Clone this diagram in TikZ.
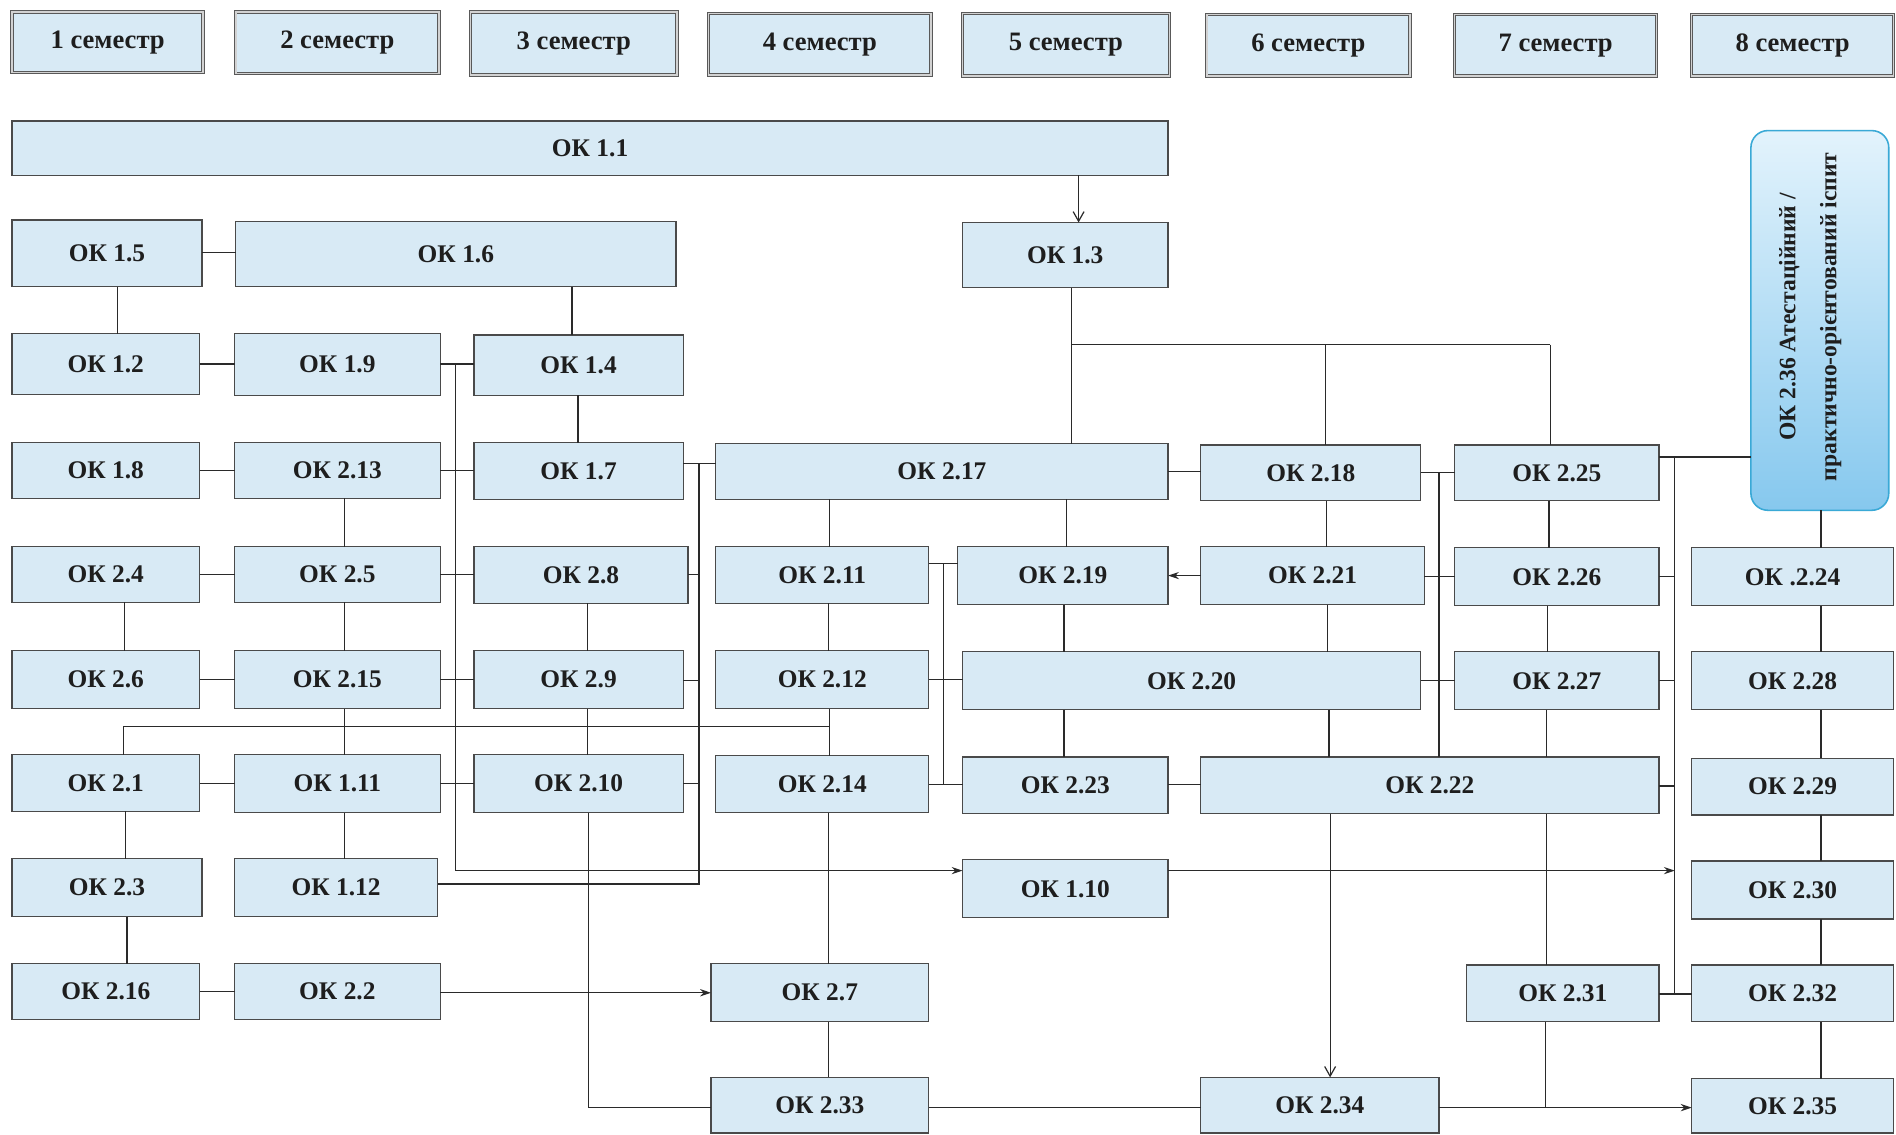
\documentclass[tikz,border=0pt]{standalone}
\usepackage{fontspec}
\setmainfont{Liberation Serif}
\usetikzlibrary{arrows.meta,shadings}
\definecolor{boxfill}{HTML}{D8EAF5}
\definecolor{boxline}{HTML}{4A4A4A}
\definecolor{txt}{HTML}{1E1E1E}
\definecolor{lnc}{HTML}{2A2A2A}
\definecolor{tealb}{HTML}{3AA9D6}
\definecolor{lightb}{HTML}{E3F3FC}
\definecolor{darkb}{HTML}{86C8EE}
\tikzset{
  okb/.style={draw=boxline, fill=boxfill, line width=1pt, inner sep=0pt, outer sep=0pt,
    font=\fontsize{21}{25}\selectfont\bfseries, text=txt},
  semb/.style={okb, draw=gray!70!black, double=gray!35, double distance=1.2pt, line width=0.8pt,
    font=\fontsize{22}{26}\selectfont\bfseries},
  bigb/.style={draw=tealb, line width=1.3pt, rounded corners=14pt, top color=lightb, bottom color=darkb,
    inner sep=0pt, outer sep=0pt},
  cn/.style={draw=lnc, line width=1pt},
  arr/.style={cn, -{Stealth[length=9pt,width=6pt]}},
  barb/.style={cn, -{Straight Barb[length=8pt,width=9pt]}},
}
\newcommand\bx[7][okb]{\node[#1,minimum width={(#5-#3)*1pt},minimum height={(#6-#4)*1pt}] (#2) at ({(#3+#5)/2},{(#4+#6)/2}) {#7};}
\newcommand\vc[4][cn]{\draw[#1] (#3.south -| #2,0) -- (#4.north -| #2,0);}
\newcommand\hc[4][cn]{\draw[#1] (#3.east |- 0,#2) -- (#4.west |- 0,#2);}
\begin{document}
\begin{tikzpicture}[x=1pt,y=-1pt]
\fill[white] (0,0) rectangle (1568,938);
\useasboundingbox (0,0) rectangle (1568,938);
% semesters
\bx[semb]{s1}{10}{10}{168}{60}{1 семестр}
\bx[semb]{s2}{195}{10}{363}{61}{2 семестр}
\bx[semb]{s3}{389}{10}{560}{62}{3 семестр}
\bx[semb]{s4}{586}{11}{770}{62}{4 семестр}
\bx[semb]{s5}{796}{11}{967}{63}{5 семестр}
\bx[semb]{s6}{998}{12}{1166}{63}{6 семестр}
\bx[semb]{s7}{1203}{12}{1370}{63}{7 семестр}
\bx[semb]{s8}{1399}{12}{1566}{63}{8 семестр}
% boxes
\bx{a1}{10}{100}{966}{145}{ОК 1.1}
\bx{a5}{10}{182}{167}{237}{ОК 1.5}
\bx{a6}{195}{183}{559}{237}{ОК 1.6}
\bx{a3}{796}{184}{966}{238}{ОК 1.3}
\bx{a2}{10}{276}{165}{326}{ОК 1.2}
\bx{a9}{194}{276}{364}{327}{ОК 1.9}
\bx{a4}{392}{277}{565}{327}{ОК 1.4}
\bx{a8}{10}{366}{165}{412}{ОК 1.8}
\bx{b13}{194}{366}{364}{412}{ОК 2.13}
\bx{a7}{392}{366}{565}{413}{ОК 1.7}
\bx{b17}{592}{367}{966}{413}{ОК 2.17}
\bx{b18}{993}{368}{1175}{414}{ОК 2.18}
\bx{b25}{1203}{368}{1372}{414}{ОК 2.25}
\bx{b4}{10}{452}{165}{498}{ОК 2.4}
\bx{b5}{194}{452}{364}{498}{ОК 2.5}
\bx{b8}{392}{452}{569}{499}{ОК 2.8}
\bx{b11}{592}{452}{768}{499}{ОК 2.11}
\bx{b19}{792}{452}{966}{500}{ОК 2.19}
\bx{b21}{993}{452}{1178}{500}{ОК 2.21}
\bx{b26}{1203}{453}{1372}{501}{ОК 2.26}
\bx{b24}{1399}{453}{1566}{501}{ОК .2.24}
\bx{b6}{10}{538}{165}{586}{ОК 2.6}
\bx{b15}{194}{538}{364}{586}{ОК 2.15}
\bx{b9}{392}{538}{565}{586}{ОК 2.9}
\bx{b12}{592}{538}{768}{586}{ОК 2.12}
\bx{b20}{796}{539}{1175}{587}{ОК 2.20}
\bx{b27}{1203}{539}{1372}{587}{ОК 2.27}
\bx{b28}{1399}{539}{1566}{587}{ОК 2.28}
\bx{b1}{10}{624}{165}{671}{ОК 2.1}
\bx{a11}{194}{624}{364}{672}{ОК 1.11}
\bx{b10}{392}{624}{565}{672}{ОК 2.10}
\bx{b14}{592}{625}{768}{672}{ОК 2.14}
\bx{b23}{796}{626}{966}{673}{ОК 2.23}
\bx{b22}{993}{626}{1372}{673}{ОК 2.22}
\bx{b29}{1399}{627}{1566}{674}{ОК 2.29}
\bx{b3}{10}{710}{167}{758}{ОК 2.3}
\bx{a12}{194}{710}{362}{758}{ОК 1.12}
\bx{a10}{796}{711}{966}{759}{ОК 1.10}
\bx{b30}{1399}{712}{1566}{760}{ОК 2.30}
\bx{b16}{10}{797}{165}{843}{ОК 2.16}
\bx{b2}{194}{797}{364}{843}{ОК 2.2}
\bx{b7}{588}{797}{768}{845}{ОК 2.7}
\bx{b31}{1213}{798}{1372}{845}{ОК 2.31}
\bx{b32}{1399}{798}{1566}{845}{ОК 2.32}
\bx{b33}{588}{891}{768}{937}{ОК 2.33}
\bx{b34}{993}{891}{1190}{937}{ОК 2.34}
\bx{b35}{1399}{892}{1566}{937}{ОК 2.35}
\node[bigb, minimum width=114pt, minimum height=314pt] (b36) at (1505,265) {};
\node[rotate=90, align=center, inner sep=0pt, text=txt,
  font=\fontsize{19.5}{34}\selectfont\bfseries] (b36t) at (1497,262)
  {ОК 2.36 Атестаційний /\\практично-орієнтований іспит};
% ---- connectors: left part
\draw[barb] (a1.south -| 892,0) -- (a3.north -| 892,0);
\hc{209}{a5}{a6}
\vc{97}{a5}{a2}
\vc{473}{a6}{a4}
\vc{478}{a4}{a7}
\hc{301}{a2}{a9}
\hc{301}{a9}{a4}
\hc{389}{a8}{b13}
\hc{389}{b13}{a7}
\hc{475}{b4}{b5}
\hc{475}{b5}{b8}
\hc{562}{b6}{b15}
\hc{562}{b15}{b9}
\hc{648}{b1}{a11}
\hc{648}{a11}{b10}
\hc{820}{b16}{b2}
\vc{285}{b13}{b5}
\vc{285}{b5}{b15}
\vc{285}{b15}{a11}
\vc{285}{a11}{a12}
\vc{103}{b4}{b6}
\vc{104}{b1}{b3}
\vc{105}{b3}{b16}
\vc{486}{b8}{b9}
\vc{486}{b9}{b10}
% vertical at x=377 to OK 1.10
\coordinate (j1) at (377,301);
\coordinate (j2) at (377,720);
\draw[cn] (j1) -- (j2);
\draw[arr] (j2) -- (a10.west |- j2);
% vertical at x=578
\coordinate (j3) at (578,383);
\coordinate (j4) at (578,731);
\draw[cn] (a7.east |- j3) -- (b17.west |- j3);
\draw[cn] (j3) -- (j4) -- (a12.east |- j4);
\draw[cn] (b8.east |- 0,475) -- (j3 |- 0,475);
\draw[cn] (b9.east |- 0,563) -- (j3 |- 0,563);
\draw[cn] (b10.east |- 0,648) -- (j3 |- 0,648);
% line at y=601 to OK 2.1
\draw[cn] (b1.north -| 102,0) -- (102,601) -- (686,601);
% column x=686
\vc{686}{b17}{b11}
\vc{685}{b11}{b12}
\vc{686}{b12}{b14}
\vc{685}{b14}{b7}
\vc{685}{b7}{b33}
\draw[arr] (b2.east |- 0,821) -- (b7.west |- 0,821);
\draw[cn] (b10.south -| 487,0) -- (487,916) -- (b33.west |- 0,916);
\draw[cn] (b34.west |- 0,916) -- (b33.east |- 0,916);
\draw[arr] (b34.east |- 0,916) -- (b35.west |- 0,916);
\draw[cn] (b31.south -| 1278,0) -- (1278,916);
% x=780
\draw[cn] (b11.east |- 0,466) -- (b19.west |- 0,466);
\draw[cn] (780,466) -- (780,649);
\hc{649}{b14}{b23}
\hc{562}{b12}{b20}
\vc{882}{b17}{b19}
\vc{880}{b19}{b20}
\vc{880}{b20}{b23}
\hc{649}{b23}{b22}
% OK 1.3 fan
\draw[cn] (a3.south -| 886,0) -- (b17.north -| 886,0);
\draw[cn] (886,285) -- (1282,285);
\draw[cn] (1096,285) -- (b18.north -| 1096,0);
\draw[cn] (1282,285) -- (b25.north -| 1282,0);
\hc{390}{b17}{b18}
\vc{1097}{b18}{b21}
\draw[arr] (b21.west |- 0,476) -- (b19.east |- 0,476);
\vc{1098}{b21}{b20}
\vc{1099}{b20}{b22}
\hc{391}{b18}{b25}
\draw[cn] (1190,391) -- (b22.north -| 1190,0);
\hc{477}{b21}{b26}
\hc{563}{b20}{b27}
\vc{1281}{b25}{b26}
\vc{1280}{b26}{b27}
\vc{1279}{b27}{b22}
% x=1385
\draw[cn] (b25.east |- 0,378) -- (b36.west |- 0,378);
\draw[cn] (1385,378) -- (1385,822);
\hc{822}{b31}{b32}
\draw[cn] (b26.east |- 0,477) -- (1385,477);
\draw[cn] (b27.east |- 0,563) -- (1385,563);
\draw[cn] (b22.east |- 0,650) -- (1385,650);
\draw[arr] (a10.east |- 0,720) -- (1385,720);
\draw[barb] (b22.south -| 1100,0) -- (b34.north -| 1100,0);
\vc{1279}{b22}{b31}
% right column
\vc{1506}{b36}{b24}
\vc{1506}{b24}{b28}
\vc{1506}{b28}{b29}
\vc{1506}{b29}{b30}
\vc{1506}{b30}{b32}
\vc{1506}{b32}{b35}
\end{tikzpicture}
\end{document}
